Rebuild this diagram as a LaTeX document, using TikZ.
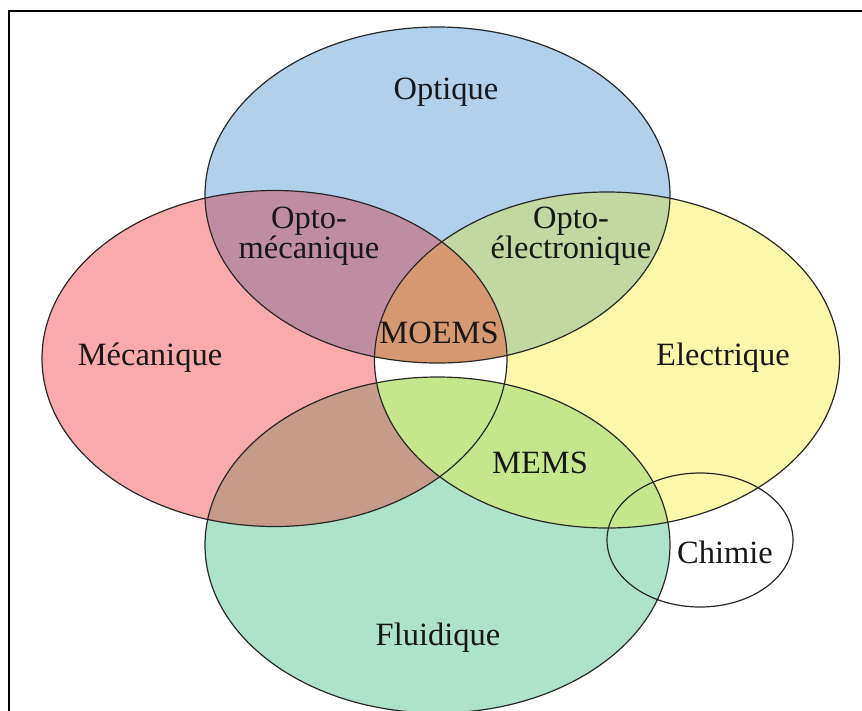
\documentclass[tikz,border=0pt]{standalone}
\usepackage{fontspec}
\setmainfont{Liberation Serif}
\definecolor{cOpt}{RGB}{176,208,236}
\definecolor{cMec}{RGB}{250,170,170}
\definecolor{cEle}{RGB}{252,248,170}
\definecolor{cFlu}{RGB}{172,227,202}
\definecolor{cOM}{RGB}{192,140,162}
\definecolor{cOE}{RGB}{194,216,160}
\definecolor{cMOEMS}{RGB}{214,152,112}
\definecolor{cRG}{RGB}{198,155,138}
\definecolor{cMEMS}{RGB}{198,230,140}
\definecolor{linegray}{RGB}{40,40,40}
\definecolor{txt}{RGB}{24,24,24}
\begin{document}
\begin{tikzpicture}[x=1pt,y=-1pt,
  erad/.style={x radius=232.5pt, y radius=168pt},
  crad/.style={x radius=93pt, y radius=67pt},
  outl/.style={draw=linegray, line width=1.2pt},
  lbl/.style={font=\fontsize{32.5}{29}\selectfont, text=txt, align=center, inner sep=0pt}]
\useasboundingbox (0,0) rectangle (862,710);
\fill[white] (0,0) rectangle (862,710);
\coordinate (cB) at (437.5,195);
\coordinate (cR) at (274.5,358.5);
\coordinate (cY) at (607,360);
\coordinate (cG) at (437.5,545);
\coordinate (cC) at (700,540);
% base fills
\fill[cOpt] (cB) ellipse[erad];
\fill[cMec] (cR) ellipse[erad];
\fill[cEle] (cY) ellipse[erad];
\fill[cFlu] (cG) ellipse[erad];
% intersections with Electrique
\begin{scope}
  \clip (cY) ellipse[erad];
  \fill[cOE] (cB) ellipse[erad];
  \fill[cMEMS] (cG) ellipse[erad];
\end{scope}
% intersections with Mecanique
\begin{scope}
  \clip (cR) ellipse[erad];
  \fill[cOM] (cB) ellipse[erad];
  \fill[cRG] (cG) ellipse[erad];
  \fill[white] (cY) ellipse[erad];
  \begin{scope}
    \clip (cY) ellipse[erad];
    \fill[cMOEMS] (cB) ellipse[erad];
    \fill[cMEMS] (cG) ellipse[erad];
  \end{scope}
\end{scope}
% outlines
\draw[outl] (cB) ellipse[erad];
\draw[outl] (cR) ellipse[erad];
\draw[outl] (cY) ellipse[erad];
\draw[outl] (cG) ellipse[erad];
\draw[outl] (cC) ellipse[crad];
% frame
\draw[line width=2pt, black] (9,712) -- (9,11) -- (864,11);
% labels
\node[lbl] (optique) at (446,92) {Optique};
\node[lbl] (optomeca) at (309,236) {Opto-\\mécanique};
\node[lbl] (optoelec) at (571,236) {Opto-\\électronique};
\node[lbl] (moems) at (439,333) {MOEMS};
\node[lbl] (meca) at (150,358) {Mécanique};
\node[lbl] (elec) at (723,358) {Electrique};
\node[lbl] (mems) at (540,463) {MEMS};
\node[lbl] (chimie) at (725,552) {Chimie};
\node[lbl] (fluid) at (438,638) {Fluidique};
\end{tikzpicture}
\end{document}
